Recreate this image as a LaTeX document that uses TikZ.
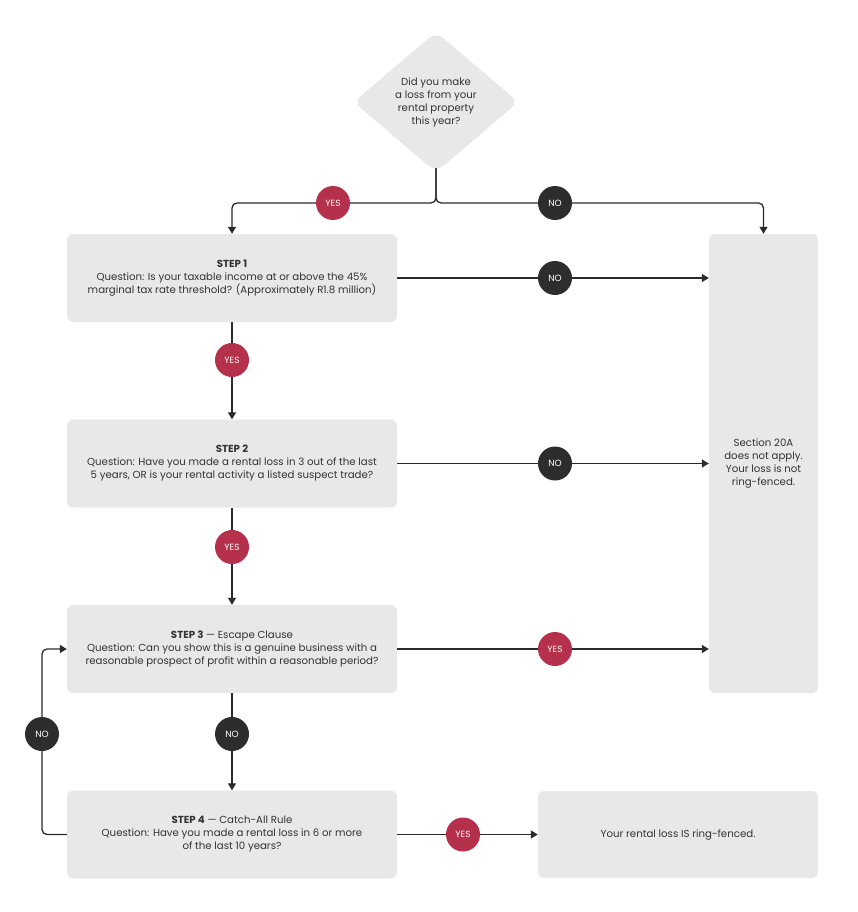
\documentclass[tikz,border=0pt]{standalone}
\usepackage{fontspec}
\setmainfont{Poppins}
\usetikzlibrary{shapes.geometric,arrows.meta}

\definecolor{boxgray}{HTML}{E8E8E8}
\definecolor{txtgray}{HTML}{333333}
\definecolor{linegray}{HTML}{2B2B2B}
\definecolor{yesred}{HTML}{B5304A}
\definecolor{nodark}{HTML}{2D2D2D}

\begin{document}
\begin{tikzpicture}[x=1pt, y=-1pt,
      box/.style={rectangle, fill=boxgray, rounded corners=6pt,
                  align=center, inner sep=4pt, text=txtgray,
                  font=\fontsize{10.2}{13}\selectfont},
      stepbox/.style={box, minimum width=330pt, minimum height=88pt},
      question/.style={diamond, fill=boxgray, rounded corners=9pt,
                  minimum width=165pt, minimum height=140pt, inner sep=0pt,
                  align=center, text=txtgray, font=\fontsize{10.2}{13}\selectfont},
      dot/.style={circle, minimum size=34pt, inner sep=0pt, text=white,
                  font=\fontsize{9}{10}\selectfont},
      yesdot/.style={dot, fill=yesred},
      nodot/.style={dot, fill=nodark},
      line/.style={draw=linegray, line width=1.3pt},
      arr/.style={line, -{Triangle[length=7pt, width=8pt]}},
    ]
    \useasboundingbox[fill=white] (0,0) rectangle (857,912);

    % Start question
    \node[question] (q) at (436,102)
      {Did you make\\a loss from your\\rental property\\this year?};

    % Steps
    \node[stepbox] (s1) at (232,278)
      {\textbf{STEP 1}\\Question: Is your taxable income at or above the 45\%\\
       marginal tax rate threshold? (Approximately R1.8 million)};
    \node[stepbox] (s2) at (232,463.5)
      {\textbf{STEP 2}\\Question: Have you made a rental loss in 3 out of the last\\
       5 years, OR is your rental activity a listed suspect trade?};
    \node[stepbox] (s3) at (232,649)
      {\textbf{STEP 3} --- Escape Clause\\Question: Can you show this is a genuine business with a\\
       reasonable prospect of profit within a reasonable period?};
    \node[stepbox] (s4) at (232,834.5)
      {\textbf{STEP 4} --- Catch-All Rule\\Question: Have you made a rental loss in 6 or more\\
       of the last 10 years?};

    % Outcomes
    \node[box, minimum width=109pt, minimum height=459pt] (res) at (763.5,463.5)
      {Section 20A\\does not apply.\\Your loss is not\\ring-fenced.};
    \node[box, minimum width=280pt, minimum height=87pt] (fenced) at (678,834.5)
      {Your rental loss IS ring-fenced.};

    % Connectors (drawn before the dots)
    \coordinate (qtip) at ([yshift=4pt]q.south);
    \draw[line, rounded corners=5pt] (qtip) |- (333,203);
    \draw[line, rounded corners=5pt] (qtip) |- (555,203);
    \draw[arr, rounded corners=5pt] (333,203) -| (s1.north);
    \draw[arr, rounded corners=5pt] (555,203) -| (res.north);

    \draw[arr] (s1.east) -- (s1.east -| res.west);
    \draw[arr] (s2.east) -- (s2.east -| res.west);
    \draw[arr] (s3.east) -- (s3.east -| res.west);
    \draw[arr] (s1.south) -- (s2.north);
    \draw[arr] (s2.south) -- (s3.north);
    \draw[arr] (s3.south) -- (s4.north);
    \draw[arr, rounded corners=5pt] (s4.west) -- (42,834.5) |- (s3.west);
    \draw[arr] (s4.east) -- (fenced.west);

    % Answer dots
    \node[yesdot] (y0) at (333,203) {YES};
    \node[nodot]  (n0) at (555,203) {NO};
    \node[nodot]  (n1) at (555,278) {NO};
    \node[yesdot] (y1) at (232,360) {YES};
    \node[nodot]  (n2) at (555,463.5) {NO};
    \node[yesdot] (y2) at (232,547) {YES};
    \node[yesdot] (y3) at (555,649) {YES};
    \node[nodot]  (n3) at (232,734) {NO};
    \node[nodot]  (n4) at (42,734) {NO};
    \node[yesdot] (y4) at (463,834.5) {YES};

\end{tikzpicture}
\end{document}
